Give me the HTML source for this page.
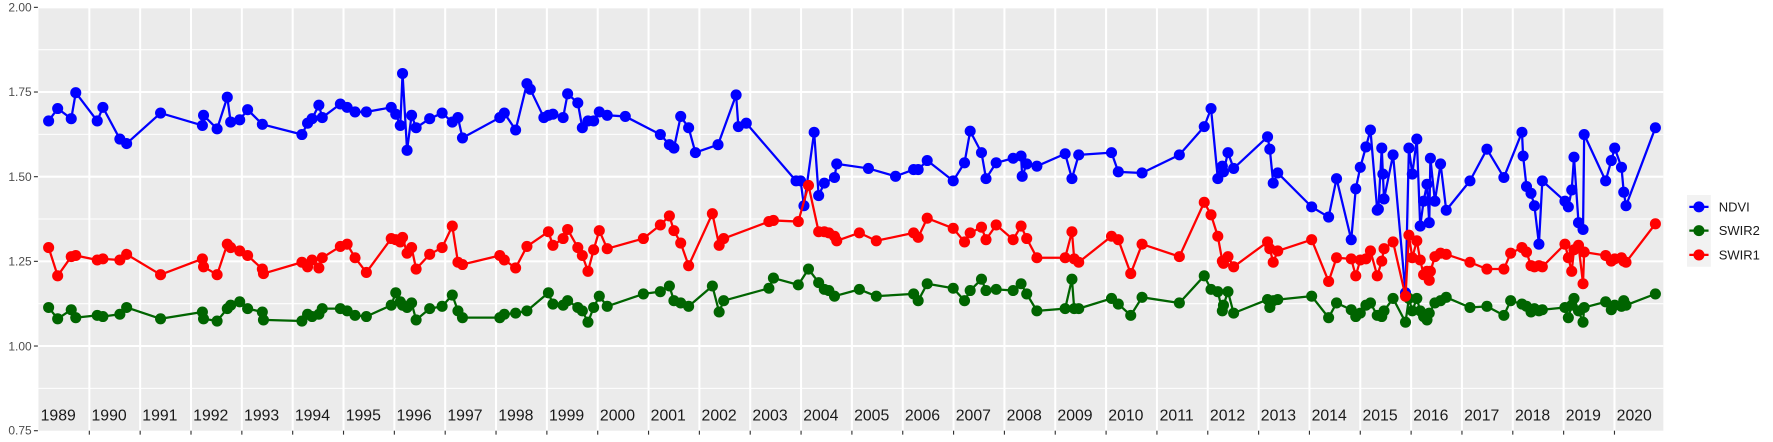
<!DOCTYPE html>
<html><head><meta charset="utf-8"><style>
html,body{margin:0;padding:0;background:#fff;}
svg{display:block;font-family:"Liberation Sans",Arial,sans-serif;}
</style></head><body>
<svg id="s" width="1773" height="442" viewBox="0 0 1568 391" preserveAspectRatio="none" xmlns="http://www.w3.org/2000/svg">
<rect x="34" y="6.5" width="1437" height="374.5" fill="#ebebeb"/>
<g id="grid"></g>
<g font-size="10.6" fill="#4d4d4d" text-anchor="end">
<text x="28" y="10">2.00</text><text x="28" y="85">1.75</text><text x="28" y="160">1.50</text>
<text x="28" y="235">1.25</text><text x="28" y="310">1.00</text><text x="28" y="384.5">0.75</text>
</g>
<g id="yt" stroke="#333" stroke-width="1"></g>
<g id="years" font-size="14" fill="#1a1a1a" text-anchor="middle">
<text x="51.5" y="372">1989</text><text x="96.5" y="372">1990</text><text x="141.4" y="372">1991</text><text x="186.4" y="372">1992</text><text x="231.4" y="372">1993</text><text x="276.3" y="372">1994</text><text x="321.3" y="372">1995</text><text x="366.2" y="372">1996</text><text x="411.2" y="372">1997</text><text x="456.2" y="372">1998</text><text x="501.1" y="372">1999</text><text x="546.1" y="372">2000</text><text x="591" y="372">2001</text><text x="636" y="372">2002</text><text x="681" y="372">2003</text><text x="725.9" y="372">2004</text><text x="770.9" y="372">2005</text><text x="815.8" y="372">2006</text><text x="860.8" y="372">2007</text><text x="905.8" y="372">2008</text><text x="950.7" y="372">2009</text><text x="995.7" y="372">2010</text><text x="1040.6" y="372">2011</text><text x="1085.6" y="372">2012</text><text x="1130.6" y="372">2013</text><text x="1175.5" y="372">2014</text><text x="1220.5" y="372">2015</text><text x="1265.4" y="372">2016</text><text x="1310.4" y="372">2017</text><text x="1355.4" y="372">2018</text><text x="1400.3" y="372">2019</text><text x="1445.3" y="372">2020</text>
</g>
<g id="data"></g>
<rect x="1492" y="172.5" width="21" height="63.5" fill="#f2f2f2"/>
<g stroke-width="2"><line x1="1494" x2="1511" y1="183" y2="183" stroke="#0000ff"/><line x1="1494" x2="1511" y1="204" y2="204" stroke="#006400"/><line x1="1494" x2="1511" y1="225.5" y2="225.5" stroke="#ff0000"/></g>
<circle cx="1502.5" cy="183" r="4.9" fill="#0000ff"/><circle cx="1502.5" cy="204" r="4.9" fill="#006400"/><circle cx="1502.5" cy="225.5" r="4.9" fill="#ff0000"/>
<g font-size="11.5" fill="#1a1a1a"><text x="1520" y="187">NDVI</text><text x="1520" y="208">SWIR2</text><text x="1520" y="229.5">SWIR1</text></g>
</svg>
<script>
var NS="http://www.w3.org/2000/svg";
function el(p,t,a){var e=document.createElementNS(NS,t);for(var k in a)e.setAttribute(k,a[k]);p.appendChild(e);return e;}
var g=document.getElementById('grid');
for(var i=0;i<10;i++){var y=6.5+i*37.45;var maj=(i%2==0);el(g,'line',{x1:34,x2:1471,y1:y,y2:y,stroke:'#fff','stroke-width':maj?1.8:0.9});}
var yt=document.getElementById('yt');
for(var i=0;i<6;i++){var y=6.5+i*74.9;el(yt,'line',{x1:30,x2:33.5,y1:y,y2:y});}
for(var k=0;k<32;k++){var x=79+(k)*44.96;if(x>1471)break;el(g,'line',{x1:x,x2:x,y1:6.5,y2:381,stroke:'#fff','stroke-width':1.8});el(yt,'line',{x1:x,x2:x,y1:381,y2:384.5});}
var N=[[43,107],[51,96],[63,105],[67,82],[86,107],[91,95],[106,123],[112,127],[142,100],[179,111],[180,102],[192,114],[201,86],[204,108],[212,106],[219,97],[232,110],[267,119],[272,109],[276,105],[282,93],[285,104],[301,92],[307,95],[314,99],[324,99],[346,95],[350,101],[354,111],[356,65],[360,133],[364,102],[368,113],[380,105],[391,100],[400,108],[405,104],[409,122],[442,104],[446,100],[456,115],[466,74],[469,79],[481,104],[485,102],[489,101],[498,104],[502,83],[511,91],[515,113],[520,107],[525,107],[530,99],[537,102],[553,103],[584,119],[592,128],[596,131],[602,103],[609,113],[615,135],[635,128],[651,84],[653,112],[660,109],[704,160],[708,160],[711,182],[720,117],[724,173],[729,162],[738,157],[740,145],[768,149],[792,156],[808,150],[812,150],[820,142],[843,160],[853,144],[858,116],[868,135],[872,158],[881,144],[896,140],[903,138],[904,156],[908,145],[917,147],[942,136],[948,158],[954,137],[983,135],[989,152],[1010,153],[1043,137],[1065,112],[1071,96],[1077,158],[1081,147],[1082,152],[1086,135],[1091,149],[1121,121],[1123,132],[1126,162],[1130,153],[1160,183],[1175,192],[1182,158],[1195,212],[1199,167],[1203,148],[1208,130],[1212,115],[1218,186],[1219,185],[1222,131],[1223,154],[1224,176],[1232,137],[1243,259],[1246,131],[1249,154],[1253,123],[1256,200],[1259,178],[1262,163],[1264,197],[1265,140],[1269,178],[1274,145],[1279,186],[1300,160],[1315,132],[1330,157],[1346,117],[1347,138],[1350,165],[1354,171],[1357,182],[1361,216],[1364,160],[1384,178],[1387,183],[1390,168],[1392,139],[1396,197],[1400,203],[1401,119],[1420,160],[1425,142],[1428,131],[1434,148],[1436,170],[1438,182],[1464,113]];
var R=[[43,219],[51,244],[63,227],[67,226],[86,230],[91,229],[106,230],[112,225],[142,243],[179,229],[180,236],[192,243],[201,216],[204,219],[212,222],[219,226],[232,238],[233,242],[267,232],[272,236],[276,230],[282,237],[285,228],[301,218],[307,216],[314,228],[324,241],[346,211],[350,212],[354,214],[356,210],[360,224],[364,219],[368,238],[380,225],[391,219],[400,200],[405,232],[409,234],[442,226],[446,230],[456,237],[466,218],[485,205],[489,217],[498,211],[502,203],[511,219],[515,226],[520,240],[525,221],[530,204],[537,220],[569,211],[584,199],[592,191],[596,204],[602,215],[609,235],[630,189],[636,217],[640,211],[680,196],[684,195],[706,196],[715,164],[724,205],[729,205],[733,206],[738,209],[740,213],[760,206],[775,213],[808,206],[812,210],[820,193],[843,202],[853,214],[858,206],[868,201],[872,212],[881,199],[896,212],[903,200],[908,211],[917,228],[942,228],[948,205],[950,229],[954,232],[983,209],[989,212],[1000,242],[1010,216],[1043,227],[1065,179],[1071,190],[1077,209],[1081,231],[1082,233],[1086,227],[1091,236],[1121,214],[1123,220],[1126,232],[1130,222],[1160,212],[1175,249],[1182,228],[1195,229],[1199,244],[1203,230],[1208,229],[1212,222],[1218,244],[1222,231],[1224,220],[1232,214],[1243,262],[1246,208],[1249,228],[1253,213],[1256,230],[1259,243],[1262,240],[1264,248],[1265,240],[1269,227],[1274,224],[1279,225],[1300,232],[1315,238],[1330,238],[1336,224],[1346,219],[1350,223],[1354,235],[1357,236],[1361,235],[1364,236],[1384,216],[1387,228],[1390,240],[1392,221],[1396,217],[1400,251],[1401,223],[1420,226],[1425,231],[1428,229],[1434,228],[1436,231],[1438,232],[1464,198]];
var G=[[43,272],[51,282],[63,274],[67,281],[86,279],[91,280],[106,278],[112,272],[142,282],[179,276],[180,282],[192,284],[201,273],[204,270],[212,267],[219,273],[232,276],[233,283],[267,284],[272,278],[276,280],[282,278],[285,273],[301,273],[307,275],[314,279],[324,280],[346,270],[350,259],[354,267],[356,270],[360,272],[364,268],[368,283],[380,273],[391,271],[400,261],[405,275],[409,281],[442,281],[446,278],[456,277],[466,275],[485,259],[489,269],[498,270],[502,266],[511,272],[515,275],[520,285],[525,272],[530,262],[537,271],[569,260],[584,258],[592,253],[596,266],[602,268],[609,271],[630,253],[636,276],[640,266],[680,255],[684,246],[706,252],[715,238],[724,250],[729,256],[733,257],[738,262],[760,256],[775,262],[808,260],[812,266],[820,251],[843,255],[853,266],[858,257],[868,247],[872,257],[881,256],[896,257],[903,251],[908,260],[917,275],[942,273],[948,247],[950,273],[954,273],[983,264],[989,269],[1000,279],[1010,263],[1043,268],[1065,244],[1071,256],[1077,258],[1081,275],[1082,270],[1086,258],[1091,277],[1121,265],[1123,272],[1126,266],[1130,265],[1160,262],[1175,281],[1182,268],[1195,274],[1199,280],[1203,277],[1208,270],[1212,268],[1218,279],[1222,280],[1224,275],[1232,264],[1243,285],[1246,264],[1249,275],[1253,264],[1256,275],[1259,280],[1262,283],[1264,277],[1269,268],[1274,266],[1279,263],[1300,272],[1315,271],[1330,279],[1336,266],[1346,269],[1350,271],[1354,276],[1357,273],[1361,275],[1364,274],[1384,272],[1387,281],[1390,270],[1392,264],[1396,275],[1400,285],[1401,272],[1420,267],[1425,274],[1428,270],[1434,271],[1436,266],[1438,270],[1464,260]];
var d=document.getElementById('data');
[[N,'#0000ff'],[G,'#006400'],[R,'#ff0000']].forEach(function(s){
 var pts=s[0].map(function(p){return p[0]+','+p[1];}).join(' ');
 el(d,'polyline',{points:pts,fill:'none',stroke:s[1],'stroke-width':2,'stroke-linejoin':'round'});
 s[0].forEach(function(p){el(d,'circle',{cx:p[0],cy:p[1],r:4.9,fill:s[1]});});
});
</script>
</body></html>
